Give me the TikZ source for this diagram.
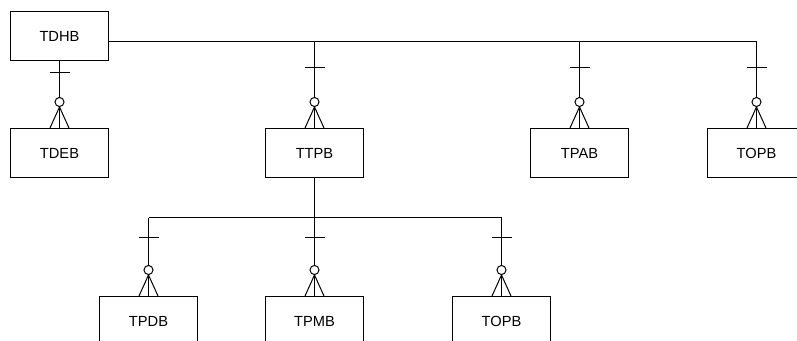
\documentclass[tikz,border=0pt]{standalone}
\usepackage{fontspec}
\setmainfont{Liberation Sans}
\usetikzlibrary{calc, positioning}

% crow's foot (one, zero-or-many) at the top of a child table
\newcommand{\crowfoot}[2]{%
    \draw ($(#1.north)+(-10,-#2)$) -- ++(20,0);
    \draw ($(#1.north)+(-9.5,0)$) -- ($(#1.north)+(0,-21)$) -- ($(#1.north)+(9.5,0)$);
    \draw[fill=white] ($(#1.north)+(0,-26)$) circle (3.4pt);
}

\begin{document}
\begin{tikzpicture}[x=0.75pt, y=-0.75pt, line width=0.75pt]
    \tikzset{table/.style={draw, fill=white, minimum width=73.5pt, minimum height=36.75pt,
        inner sep=0pt, font=\fontsize{11}{13}\selectfont}}
    \useasboundingbox (0,0) rectangle (797,341);

    % --- Tables ---
    \node[table] (tdhb) at (59.5, 36) {TDHB};
    \node[table] (tdeb) at (59.5, 153) {TDEB};
    \node[table] (ttpb) at (314.5, 153) {TTPB};
    \node[table] (tpab) at (579.5, 153) {TPAB};
    \node[table] (topb) at (756.5, 153) {TOPB};
    \node[table] (tpdb) at (148.5, 321) {TPDB};
    \node[table] (tpmb) at (314.5, 321) {TPMB};
    \node[table] (topbb) at (501.5, 321) {TOPB};

    % --- Relations from TDHB ---
    \coordinate (bus) at ($(tdhb.east)+(0,5.5)$);
    \draw (tdhb.south) -- (tdeb.north);
    \draw (bus) -| (topb.north);
    \draw (bus -| ttpb.north) -- (ttpb.north);
    \draw (bus -| tpab.north) -- (tpab.north);

    % --- Relations from TTPB ---
    \coordinate (split) at ($(ttpb.south)+(0,40)$);
    \draw (ttpb.south) -- (tpmb.north);
    \draw (split -| tpdb.north) -| (topbb.north);
    \draw (split -| tpdb.north) -- (tpdb.north);

    % --- Crow's feet ---
    \crowfoot{tdeb}{55}
    \crowfoot{ttpb}{60}
    \crowfoot{tpab}{60}
    \crowfoot{topb}{60}
    \crowfoot{tpdb}{58}
    \crowfoot{tpmb}{58}
    \crowfoot{topbb}{58}
\end{tikzpicture}
\end{document}
